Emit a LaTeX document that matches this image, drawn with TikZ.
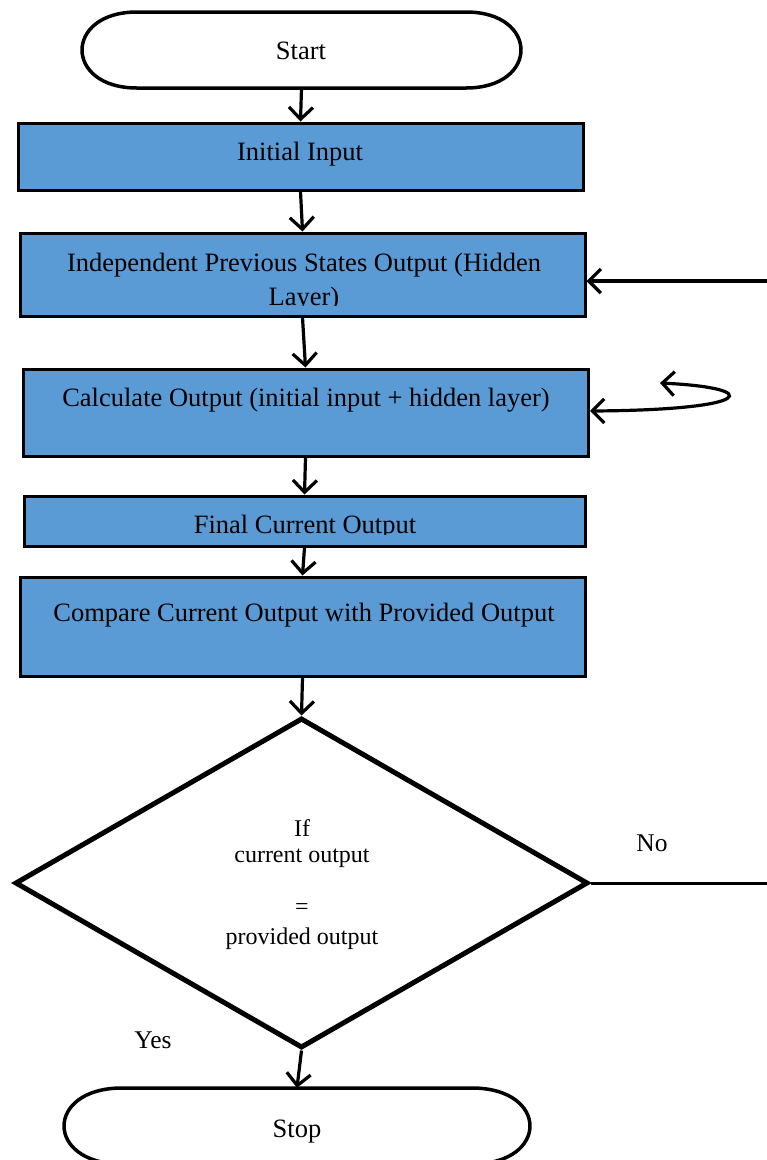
\documentclass[tikz,border=0pt]{standalone}
\usepackage{fontspec}
\setmainfont{Liberation Serif}
\usetikzlibrary{arrows.meta,shapes.geometric}
\definecolor{boxblue}{RGB}{91,155,213}
\begin{document}
\begin{tikzpicture}[x=1pt,y=-1pt,
  procbox/.style={draw=black,line width=3pt,fill=boxblue,inner sep=0pt,
    minimum width=#1},
  boxtext/.style={anchor=base,inner sep=0pt,font=\fontsize{26.5}{30}\selectfont},
  dectext/.style={anchor=base,inner sep=0pt,font=\fontsize{24}{28}\selectfont},
  lbltext/.style={anchor=base,inner sep=0pt,font=\fontsize{25.5}{30}\selectfont},
  termline/.style={draw=black,line width=3.5pt,fill=white},
  flow/.style={line width=3.2pt,-{Straight Barb[length=12pt,width=24pt]}},
  twoway/.style={line width=3.2pt,{Straight Barb[length=12pt,width=24pt]}-{Straight Barb[length=12pt,width=24pt]}},
  plain/.style={line width=3pt}]
\useasboundingbox (0,0) rectangle (767,1160);

% terminals: stadium outlines with elliptic ends
\draw[termline] (137,12) -- (466,12)
  .. controls (539.3,12) and (539.3,88) .. (466,88) -- (137,88)
  .. controls (63.7,88) and (63.7,12) .. (137,12) -- cycle;
\node[minimum width=439pt,minimum height=76pt,inner sep=0pt] (start) at (301.5,50) {};
\node[boxtext] (startT) at (301,59) {Start};

\draw[termline] (122,1088) -- (472,1088)
  .. controls (549.3,1088) and (549.3,1164) .. (472,1164) -- (122,1164)
  .. controls (44.7,1164) and (44.7,1088) .. (122,1088) -- cycle;
\node[minimum width=466pt,minimum height=76pt,inner sep=0pt] (stop) at (297,1126) {};
\node[boxtext] (stopT) at (297,1137) {Stop};

% process boxes
\node[procbox=565pt,minimum height=67pt] (inp) at (300.5,156.5) {};
\node[boxtext] (inpT) at (300,160) {Initial Input};

\node[procbox=565pt,minimum height=83pt] (hid) at (302.5,274.5) {};
\node[boxtext] (hidT1) at (304,271) {Independent Previous States Output (Hidden};
\begin{scope}
  \clip (20,280) rectangle (585,305.5);
  \node[boxtext] (hidT2) at (304,305) {Layer)};
\end{scope}

\node[procbox=565pt,minimum height=87pt] (calc) at (305.5,412.5) {};
\node[boxtext] (calcT) at (306,406) {Calculate Output (initial input + hidden layer)};

\node[procbox=561pt,minimum height=50pt] (fin) at (304.5,521) {};
\begin{scope}
  \clip (24,496) rectangle (585,534.5);
  \node[boxtext] (finT) at (305,533) {Final Current Output};
\end{scope}

\node[procbox=565pt,minimum height=99pt] (cmp) at (302.5,626.5) {};
\node[boxtext] (cmpT) at (304,621) {Compare Current Output with Provided Output};

% decision
\node[draw=black,line width=5pt,shape=diamond,inner sep=0pt,
  minimum width=573pt,minimum height=330pt] (dec) at (301.5,883) {};
\node[dectext] (decT1) at (302,836) {If};
\node[dectext] (decT2) at (302,862) {current output};
\node[dectext] (decT3) at (302,914) {=};
\node[dectext] (decT4) at (302,944) {provided output};

\node[lbltext] (no) at (652,851) {No};
\node[lbltext] (yes) at (153,1048) {Yes};

% connectors
\draw[flow] (start.south) -- (inp.north);
\draw[flow] (inp.south) -- (hid.north);
\draw[flow] (hid.south) -- (calc.north);
\draw[flow] (calc.south) -- (fin.north);
\draw[flow] (fin.south) -- (cmp.north);
\draw[flow] (cmp.south) -- (dec.north);
\draw[flow] (dec.south) -- (stop.north);

\coordinate (feedIn) at (767,281);
\draw[flow] (feedIn) -- (hid.east |- feedIn);

\coordinate (noEnd) at (767,883);
\draw[plain] (dec.east) -- (noEnd);

\coordinate (loopTip) at (660,383);
\coordinate (loopIn) at (590,411);
\draw[twoway] (loopTip) .. controls (765,388) and (755,410) .. (loopIn);
\end{tikzpicture}
\end{document}
